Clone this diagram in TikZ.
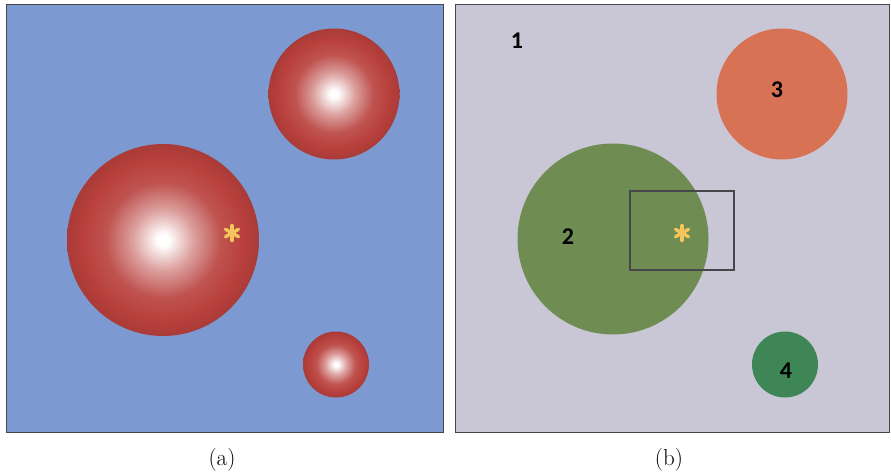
\documentclass[tikz,border=0pt]{standalone}
\usepackage{fontspec}
\newfontfamily\lblfont{Carlito}
\usetikzlibrary{positioning}
\definecolor{bgBlue}{RGB}{124,154,209}
\definecolor{bgGrey}{RGB}{201,199,213}
\definecolor{sphRed}{RGB}{184,64,60}
\definecolor{regOrange}{RGB}{215,114,84}
\definecolor{regOlive}{RGB}{111,140,82}
\definecolor{regGreen}{RGB}{62,134,86}
\definecolor{astYellow}{RGB}{246,196,92}
\definecolor{frameGrey}{RGB}{70,70,75}
\pgfdeclareradialshading{sphere}{\pgfpoint{0bp}{0bp}}{%
  color(0bp)=(white); color(1.5bp)=(white);
  color(8bp)=(sphRed!50!white); color(15bp)=(sphRed!90!white);
  color(21bp)=(sphRed); color(25bp)=(sphRed!92!black);
  color(50bp)=(sphRed!92!black)}
\newcommand{\glint}[1]{%
  \foreach \ang in {90,30,150}
    \draw[astline] (#1) ++(\ang:7.5) -- ++(\ang+180:15);}

\begin{document}
\begin{tikzpicture}[x=1pt,y=-1pt,
  frame/.style={draw=frameGrey,line width=1pt},
  astline/.style={astYellow,line width=3.4pt,line cap=round},
  lbl/.style={font=\lblfont\bfseries\fontsize{24}{24}\selectfont,text=black},
  caption/.style={font=\fontsize{23}{23}\selectfont}]
  \useasboundingbox (0,0) rectangle (891,474);
  % panel (a)
  \fill[bgBlue](6,4) rectangle (443,432);
  \draw[frame](6,4) rectangle (443,432);
  \shade[shading=sphere](163,240) circle[radius=96pt];
  \shade[shading=sphere](334,94) circle[radius=65.5pt];
  \shade[shading=sphere](336,364.5) circle[radius=33pt];
  \coordinate (astA) at (232,233);
  \glint{astA}
  \node[caption] (capA) at (222,460) {(a)};
  % panel (b)
  \fill[bgGrey](455,4) rectangle (889,432);
  \draw[frame](455,4) rectangle (889,432);
  \fill[regOlive](613,239) circle[radius=95.5pt];
  \fill[regOrange](782,94) circle[radius=65.5pt];
  \fill[regGreen](785,364.5) circle[radius=33pt];
  \draw[frameGrey,line width=1.2pt](630,191) rectangle (734,270);
  \coordinate (astB) at (682,233);
  \glint{astB}
  \node[lbl] (reg1) at (517,41) {1};
  \node[lbl] (reg2) at (568,237) {2};
  \node[lbl] (reg3) at (777,90) {3};
  \node[lbl] (reg4) at (786,371) {4};
  \node[caption] (capB) at (669,460) {(b)};
\end{tikzpicture}
\end{document}
